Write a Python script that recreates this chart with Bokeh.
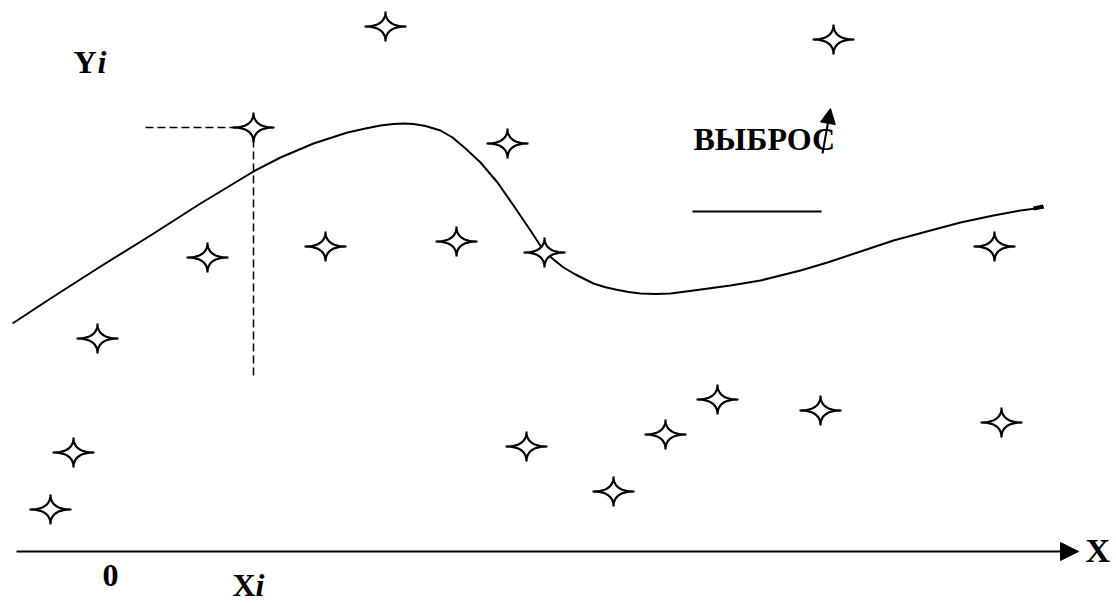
import numpy as np
from bokeh.plotting import figure
from bokeh.models import Range1d, Arrow, NormalHead
from bokeh.core.properties import value
from bokeh.embed import file_html
from bokeh.resources import INLINE

# ---- data (in picture units) ----
star_x = [50, 73, 97, 207, 253, 325, 385, 456, 507, 526, 544, 613, 665, 717, 820, 833, 994, 1001]
star_y = [509, 452, 338, 257, 127, 246, 26, 241, 143, 446, 252, 491, 434, 399, 410, 39, 246, 422]

curve_x = [12, 50, 100, 150, 200, 253, 280, 313, 347, 365, 380, 393, 403, 413, 425, 440, 452,
           465, 480, 497, 513, 530, 543, 553, 563, 575, 593, 604, 615, 628, 640, 655, 670,
           693, 730, 760, 800, 827, 860, 893, 930, 960, 993, 1020, 1043]
curve_y = [323, 298, 266, 235, 203, 171, 157, 143, 132, 128, 125, 123.5, 123, 123.5, 125.5, 130,
           137, 148, 162, 182, 205, 230, 250, 259, 267, 274, 283, 286.5, 289, 291.5, 293, 293.5,
           293, 290, 285, 280, 270, 262, 251, 240, 230, 222, 215, 210, 207]

curve_end_x = [1033, 1043]
curve_end_y = [208, 206]

guide_h_x = [145, 253]
guide_h_y = [127, 127]
guide_v_x = [253, 253]
guide_v_y = [127, 375]

bar_x = [692, 821]
bar_y = [211, 211]

outlier_label = "ВЫБРОС"
x_label = "X"
zero_label = "0"

# ---- figure ----
p = figure(width=1116, height=603, x_range=Range1d(0, 1116), y_range=Range1d(603, 0),
           output_backend="svg", toolbar_location=None, min_border=0,
           x_axis_location=None, y_axis_location=None)
p.grid.visible = False
p.outline_line_color = None
p.background_fill_color = "white"
p.border_fill_color = "white"

# curve
p.line(curve_x, curve_y, line_color="black", line_width=2, line_join="round")
p.line(curve_end_x, curve_end_y, line_color="black", line_width=4)

# dashed guides
p.line(guide_h_x, guide_h_y, line_color="black", line_width=1.5, line_dash="8 4")
p.line(guide_v_x, guide_v_y, line_color="black", line_width=1.5, line_dash="8 4")

# short solid bar under label
p.line(bar_x, bar_y, line_color="black", line_width=2)

# star markers (four-pointed)
t = np.linspace(0, 2 * np.pi, 121)
k = 4.0
tx = np.sign(np.cos(t)) * np.abs(np.cos(t)) ** k
ty = np.sign(np.sin(t)) * np.abs(np.sin(t)) ** k
R, V = 21, 15
xs = [list(cx + R * tx) for cx in star_x]
ys = [list(cy + V * ty) for cy in star_y]
p.patches(xs, ys, fill_color="white", line_color="black", line_width=2.2)

# x axis arrow
p.add_layout(Arrow(end=NormalHead(size=18, fill_color="black", line_color="black"),
                   x_start=16, y_start=551, x_end=1078, y_end=551,
                   line_color="black", line_width=2))

# outlier arrow
p.add_layout(Arrow(end=NormalHead(size=15, fill_color="black", line_color="black"),
                   x_start=822, y_start=153, x_end=830, y_end=108,
                   line_color="black", line_width=2))

font = value("Liberation Serif")

def label(x, y, txt, style="bold", size="32px"):
    p.text(x=[x], y=[y], text=[txt], text_font=font, text_font_style=style,
           text_font_size=size, text_color="black",
           text_align="left", text_baseline="alphabetic")

label(73, 61, "Y")
label(97, 61, "i", style="bold italic")
label(693, 138, outlier_label)
label(102, 575, zero_label)
label(1085, 550, x_label, size="34px")
label(232, 584, "X")
label(255, 584, "i", style="bold italic")

open("out.html", "w").write(file_html(p, INLINE))
